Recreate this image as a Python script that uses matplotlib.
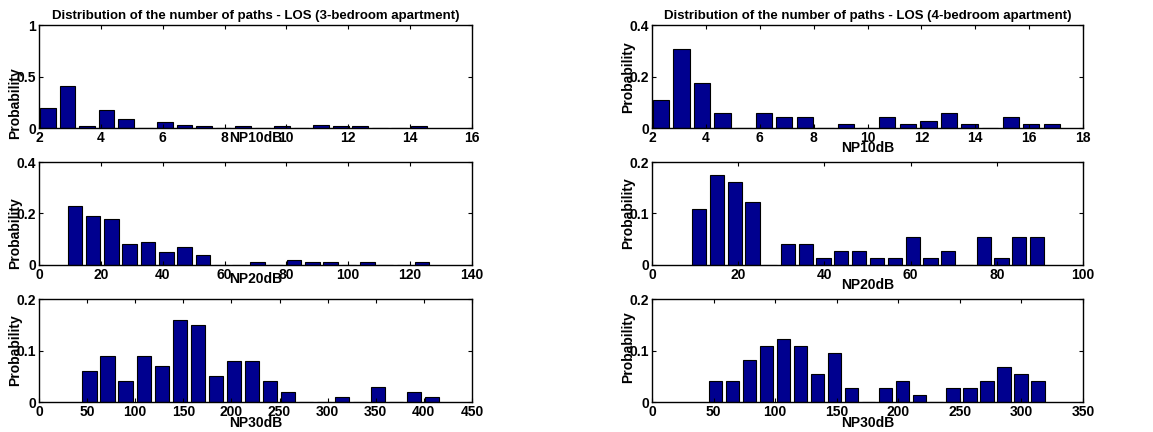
import matplotlib
matplotlib.use('Agg')
import matplotlib.pyplot as plt
from matplotlib.ticker import FormatStrFormatter

plt.rcParams['font.family'] = ['Liberation Sans', 'DejaVu Sans']
plt.rcParams['font.weight'] = 'bold'

BAR_COLOR = '#00008f'

# 3-bedroom apartment, LOS
np10_3br = [2.29, 2.92, 3.55, 4.18, 4.81, 5.45, 6.08, 6.71, 7.34, 7.97,
            8.60, 9.23, 9.86, 10.49, 11.12, 11.76, 12.39, 13.02, 13.65, 14.28]
p10_3br = [0.19, 0.41, 0.015, 0.17, 0.09, 0, 0.055, 0.03, 0.02, 0,
           0.015, 0, 0.015, 0, 0.025, 0.015, 0.015, 0, 0, 0.015]

np20_3br = [11.6, 17.5, 23.4, 29.3, 35.2, 41.2, 47.1, 53.0, 58.9, 64.8,
            70.7, 76.6, 82.5, 88.4, 94.3, 100.3, 106.2, 112.1, 118.0, 123.9]
p20_3br = [0.23, 0.19, 0.18, 0.08, 0.09, 0.05, 0.07, 0.04, 0, 0,
           0.01, 0, 0.02, 0.01, 0.01, 0, 0.01, 0, 0, 0.01]

np30_3br = [52.7, 71.4, 90.1, 108.9, 127.6, 146.3, 165.0, 183.7, 202.5, 221.2,
            239.9, 258.6, 277.3, 296.1, 314.8, 333.5, 352.2, 370.9, 389.7, 408.4]
p30_3br = [0.06, 0.09, 0.04, 0.09, 0.07, 0.16, 0.15, 0.05, 0.08, 0.08,
           0.04, 0.02, 0, 0, 0.01, 0, 0.03, 0, 0.02, 0.01]

# 4-bedroom apartment, LOS
np10_4br = [2.33, 3.09, 3.86, 4.62, 5.39, 6.15, 6.91, 7.68, 8.44, 9.21,
            9.97, 10.73, 11.50, 12.26, 13.03, 13.79, 14.55, 15.32, 16.08, 16.85]
p10_4br = [0.108, 0.307, 0.174, 0.057, 0, 0.057, 0.041, 0.041, 0, 0.015,
           0, 0.041, 0.015, 0.028, 0.057, 0.015, 0, 0.041, 0.015, 0.015]

np20_4br = [10.9, 15.0, 19.2, 23.3, 27.4, 31.6, 35.7, 39.8, 43.9, 48.1,
            52.2, 56.3, 60.5, 64.6, 68.7, 72.9, 77.0, 81.1, 85.2, 89.4]
p20_4br = [0.108, 0.175, 0.162, 0.122, 0, 0.041, 0.041, 0.014, 0.027, 0.027,
           0.014, 0.014, 0.054, 0.014, 0.027, 0, 0.054, 0.014, 0.054, 0.054]

np30_4br = [51.7, 65.5, 79.3, 93.0, 106.8, 120.6, 134.4, 148.2, 161.9, 175.7,
            189.5, 203.3, 217.1, 230.8, 244.6, 258.4, 272.2, 286.0, 299.7, 313.5]
p30_4br = [0.041, 0.041, 0.081, 0.108, 0.122, 0.108, 0.054, 0.095, 0.027, 0,
           0.027, 0.041, 0.014, 0, 0.027, 0.027, 0.041, 0.068, 0.054, 0.041]

titles = ['Distribution of the number of paths - LOS (3-bedroom apartment)',
          'Distribution of the number of paths - LOS (4-bedroom apartment)']


def _hist_panel(rect, centers, probs, xticks, yticks, xlabel,
                xlabel_y, ylabel_y, title=None):
    ax = fig.add_axes(rect)
    width = 0.8 * (centers[1] - centers[0])
    ax.bar(centers, probs, width=width, color=BAR_COLOR,
           edgecolor='black', linewidth=0.8)
    ax.set_xlim(xticks[0], xticks[-1])
    ax.set_ylim(yticks[0], yticks[-1])
    ax.set_xticks(xticks)
    ax.set_yticks(yticks)
    ax.xaxis.set_major_formatter(FormatStrFormatter('%g'))
    ax.yaxis.set_major_formatter(FormatStrFormatter('%g'))
    ax.tick_params(direction='in', length=3, width=0.8, top=True, right=True,
                   labelsize=10, pad=2)
    for s in ax.spines.values():
        s.set_linewidth(1.0)
    ax.set_xlabel(xlabel, fontsize=10, fontweight='bold')
    ax.xaxis.set_label_coords(0.5, xlabel_y)
    ax.xaxis.label.set_va('center')
    ax.set_ylabel('Probability', fontsize=10, fontweight='bold')
    ax.yaxis.set_label_coords(-0.055, ylabel_y)
    ax.yaxis.label.set_va('center')
    if title:
        ax.set_title(title, fontsize=9.5, fontweight='bold', pad=4)
    return ax


fig = plt.figure(figsize=(11.53, 4.32), dpi=100)

h = 0.2384
left_x, right_x = 0.0338, 0.5655
left_w, right_w = 0.3755, 0.3738
rows = [0.7037, 0.3866, 0.0694]

_hist_panel([left_x, rows[0], left_w, h], np10_3br, p10_3br,
            list(range(2, 17, 2)), [0, 0.5, 1], 'NP10dB', -0.1, 0.24, titles[0])
_hist_panel([left_x, rows[1], left_w, h], np20_3br, p20_3br,
            list(range(0, 141, 20)), [0, 0.2, 0.4], 'NP20dB', -0.14, 0.31)
_hist_panel([left_x, rows[2], left_w, h], np30_3br, p30_3br,
            list(range(0, 451, 50)), [0, 0.1, 0.2], 'NP30dB', -0.2, 0.5)

_hist_panel([right_x, rows[0], right_w, h], np10_4br, p10_4br,
            list(range(2, 19, 2)), [0, 0.2, 0.4], 'NP10dB', -0.19, 0.49, titles[1])
_hist_panel([right_x, rows[1], right_w, h], np20_4br, p20_4br,
            list(range(0, 101, 20)), [0, 0.1, 0.2], 'NP20dB', -0.19, 0.5)
_hist_panel([right_x, rows[2], right_w, h], np30_4br, p30_4br,
            list(range(0, 351, 50)), [0, 0.1, 0.2], 'NP30dB', -0.2, 0.53)

fig.savefig('out.png', dpi=100)
